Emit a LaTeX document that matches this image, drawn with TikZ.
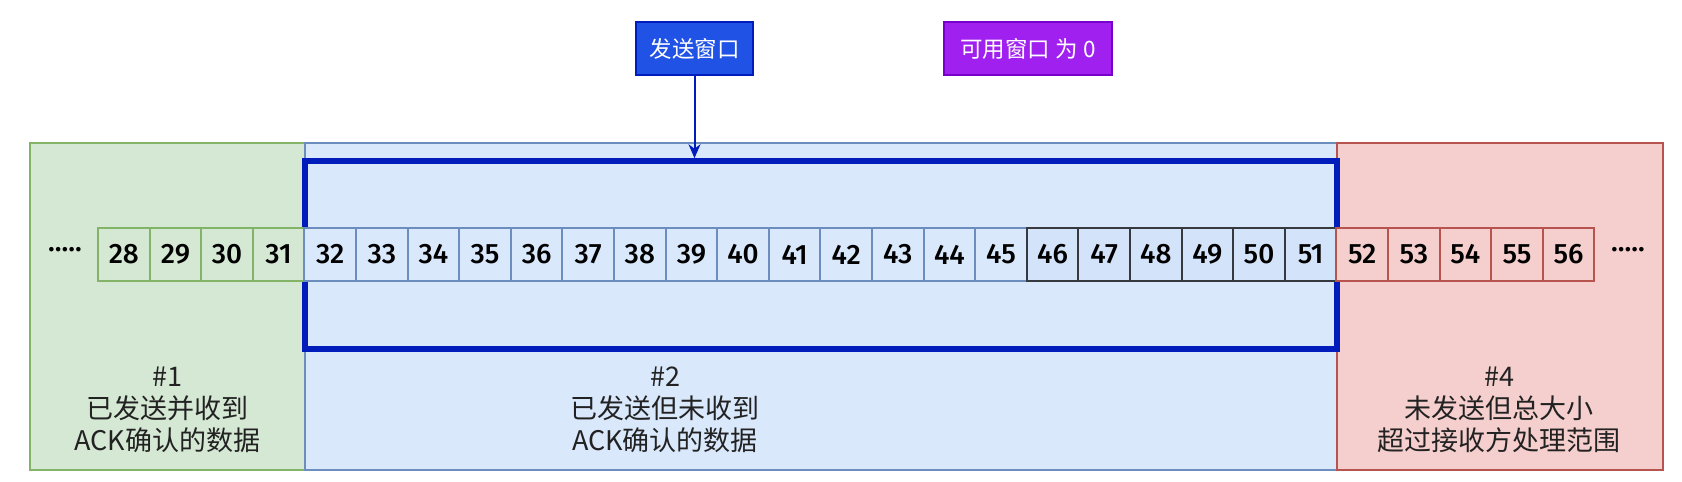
\documentclass[tikz,border=0pt]{standalone}
\usepackage{fontspec}
\setmainfont{Noto Sans}
\newfontfamily\cjkfont{Noto Sans CJK SC}
\newfontfamily\numfont{Fira Sans}[UprightFont=* Medium]
\usetikzlibrary{arrows.meta}
\usetikzlibrary{positioning}

\definecolor{ackfill}{HTML}{D5E8D4}
\definecolor{ackline}{HTML}{82B366}
\definecolor{sentfill}{HTML}{DAE8FC}
\definecolor{sentline}{HTML}{6C8EBF}
\definecolor{usablefill}{HTML}{D2E3FA}
\definecolor{usableline}{HTML}{36393D}
\definecolor{outfill}{HTML}{F4CFCD}
\definecolor{outline}{HTML}{B85450}
\definecolor{winline}{HTML}{001DBC}
\definecolor{winfill}{HTML}{2152E6}
\definecolor{zerofill}{HTML}{A020F0}
\definecolor{zeroline}{HTML}{7700CC}
\definecolor{labeltext}{HTML}{222222}

\newcommand{\SWCellWidth}{25.8pt}
\newcommand{\SWCellHeight}{26.5pt}
\newcommand{\SWCell}[3]{
  \node[#2, #3] (c#1) {#1};
}

\begin{document}
\begin{tikzpicture}[x=0.5pt,y=-0.5pt,
  region/.style={draw, line width=1pt, inner sep=0pt, outer sep=0pt},
  cell/.style={draw, line width=1pt, inner sep=0pt, outer sep=0pt,
    minimum width=\SWCellWidth, minimum height=\SWCellHeight,
    font=\numfont\fontsize{14}{14}\selectfont},
  ackcell/.style={cell, fill=ackfill, draw=ackline},
  sentcell/.style={cell, fill=sentfill, draw=sentline},
  usablecell/.style={cell, fill=usablefill, draw=usableline},
  outcell/.style={cell, fill=outfill, draw=outline},
  regionlabel/.style={align=center, text=labeltext,
    font=\cjkfont\fontsize{13.5}{16}\selectfont},
  headbox/.style={draw, line width=0.8pt, text=white, inner sep=0pt,
    minimum height=26.5pt, font=\cjkfont\fontsize{11.25}{12}\selectfont},
  dots/.style={font=\numfont\fontsize{14}{14}\selectfont},
  winarrow/.style={draw=winline, line width=1pt, -{Stealth[length=7pt,width=6pt]}}]
\useasboundingbox (0,0) rectangle (1682,482);

% the three parts of the stream
\node[region, fill=ackfill, draw=ackline, minimum width=137.5pt, minimum height=163.5pt] (acked) at (167.5,306.5) {};
\node[region, fill=sentfill, draw=sentline, minimum width=516pt, minimum height=163.5pt] (sent) at (821,306.5) {};
\node[region, fill=outfill, draw=outline, minimum width=163pt, minimum height=163.5pt] (outside) at (1500,306.5) {};

% send window
\node[draw=winline, line width=2.8pt, minimum width=516pt, minimum height=94pt] (window) at (821,255) {};

% bytes
\SWCell{28}{ackcell}{at={(123.8,254.5)}}
\SWCell{29}{ackcell}{right=0pt of c28}
\SWCell{30}{ackcell}{right=0pt of c29}
\SWCell{31}{ackcell}{right=0pt of c30}
\SWCell{32}{sentcell}{right=0pt of c31}
\SWCell{33}{sentcell}{right=0pt of c32}
\SWCell{34}{sentcell}{right=0pt of c33}
\SWCell{35}{sentcell}{right=0pt of c34}
\SWCell{36}{sentcell}{right=0pt of c35}
\SWCell{37}{sentcell}{right=0pt of c36}
\SWCell{38}{sentcell}{right=0pt of c37}
\SWCell{39}{sentcell}{right=0pt of c38}
\SWCell{40}{sentcell}{right=0pt of c39}
\SWCell{41}{sentcell}{right=0pt of c40}
\SWCell{42}{sentcell}{right=0pt of c41}
\SWCell{43}{sentcell}{right=0pt of c42}
\SWCell{44}{sentcell}{right=0pt of c43}
\SWCell{45}{sentcell}{right=0pt of c44}
\SWCell{46}{usablecell}{right=0pt of c45}
\SWCell{47}{usablecell}{right=0pt of c46}
\SWCell{48}{usablecell}{right=0pt of c47}
\SWCell{49}{usablecell}{right=0pt of c48}
\SWCell{50}{usablecell}{right=0pt of c49}
\SWCell{51}{usablecell}{right=0pt of c50}
\SWCell{52}{outcell}{right=0pt of c51}
\SWCell{53}{outcell}{right=0pt of c52}
\SWCell{54}{outcell}{right=0pt of c53}
\SWCell{55}{outcell}{right=0pt of c54}
\SWCell{56}{outcell}{right=0pt of c55}

\node[dots] (leftdots) at (65,250) {.....};
\node[dots] (rightdots) at (1628,250) {.....};

% labels
\node[regionlabel] (ackedtext) at (167.5,410) {\#1\\已发送并收到\\ACK确认的数据};
\node[regionlabel] (senttext) at (665,410) {\#2\\已发送但未收到\\ACK确认的数据};
\node[regionlabel] (outsidetext) at (1499,410) {\#4\\未发送但总大小\\超过接收方处理范围};

% window titles
\node[headbox, fill=winfill, draw=winline, minimum width=58.5pt] (sendwin) at (694.5,48.5) {发送窗口};
\node[headbox, fill=zerofill, draw=zeroline, minimum width=84pt] (zerowin) at (1028,48.5) {可用窗口 为 0};
\draw[winarrow] (sendwin.south) -- (sendwin.south |- window.north);
\end{tikzpicture}
\end{document}
